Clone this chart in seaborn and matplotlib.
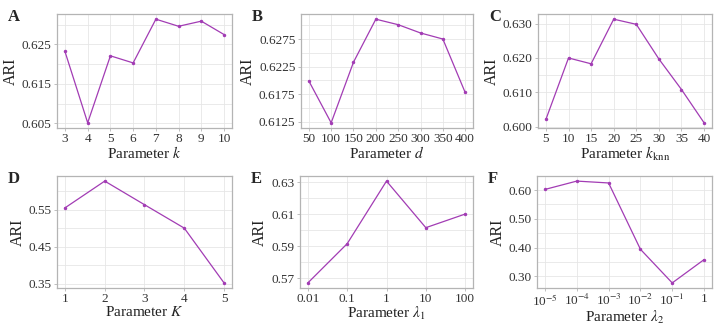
import numpy as np
import pandas as pd
import seaborn as sns
import matplotlib.pyplot as plt
from matplotlib.ticker import MultipleLocator

# ARI sensitivity to each hyperparameter
k_vals = ["3", "4", "5", "6", "7", "8", "9", "10"]
k_ari = [0.6232, 0.6051, 0.6221, 0.6203, 0.6314, 0.6296, 0.6309, 0.6275]

d_vals = ["50", "100", "150", "200", "250", "300", "350", "400"]
d_ari = [0.6199, 0.6123, 0.6233, 0.6311, 0.6301, 0.6286, 0.6275, 0.6178]

knn_vals = ["5", "10", "15", "20", "25", "30", "35", "40"]
knn_ari = [0.6021, 0.6200, 0.6183, 0.6313, 0.6298, 0.6197, 0.6108, 0.6011]

K_vals = ["1", "2", "3", "4", "5"]
K_ari = [0.5554, 0.628, 0.564, 0.5005, 0.352]

lam1_vals = ["0.01", "0.1", "1", "10", "100"]
lam1_ari = [0.567, 0.5915, 0.6306, 0.6015, 0.610]

lam2_vals = ["10$^{\\mathrm{-5}}$", "10$^{\\mathrm{-4}}$", "10$^{\\mathrm{-3}}$",
             "10$^{\\mathrm{-2}}$", "10$^{\\mathrm{-1}}$", "1"]
lam2_ari = [0.602, 0.631, 0.6245, 0.394, 0.277, 0.358]

sns.set_theme(style="whitegrid")
plt.rcParams["font.family"] = ["Liberation Serif", "DejaVu Serif"]
plt.rcParams["mathtext.fontset"] = "stix"

LINE = "#a23cb4"
SPINE = "#b4b4b4"
GRID = "#e6e6e6"

panels = [
    ("A", k_vals, k_ari, r"Parameter $k$", [0.605, 0.615, 0.625], "{:.3f}"),
    ("B", d_vals, d_ari, r"Parameter $d$", [0.6125, 0.6175, 0.6225, 0.6275], "{:.4f}"),
    ("C", knn_vals, knn_ari, r"Parameter $k_{\mathrm{knn}}$", [0.600, 0.610, 0.620, 0.630], "{:.3f}"),
    ("D", K_vals, K_ari, r"Parameter $K$", [0.35, 0.45, 0.55], "{:.2f}"),
    ("E", lam1_vals, lam1_ari, r"Parameter $\lambda_1$", [0.57, 0.59, 0.61, 0.63], "{:.2f}"),
    ("F", lam2_vals, lam2_ari, r"Parameter $\lambda_2$", [0.30, 0.40, 0.50, 0.60], "{:.2f}"),
]

fig = plt.figure(figsize=(7.24, 3.26), dpi=100)
W, H = 724, 326
boxes = [
    (57, 14, 175, 114), (301, 14, 172, 114), (538, 14, 174, 114),
    (57, 176, 175, 112), (300, 176, 173, 112), (537, 176, 175, 112),
]

for (letter, xs, ys, xlabel, yt, fmt), (x0, y0, w, h) in zip(panels, boxes):
    ax = fig.add_axes([x0 / W, 1 - (y0 + h) / H, w / W, h / H])
    df = pd.DataFrame({"pos": np.arange(len(xs)), "ARI": ys})
    sns.lineplot(data=df, x="pos", y="ARI", ax=ax, color=LINE, linewidth=0.9,
                 marker="o", markersize=2.5, markeredgewidth=0, markerfacecolor=LINE)
    ax.set_xticks(df["pos"])
    ax.set_xticklabels(xs)
    ax.set_yticks(yt)
    ax.set_yticklabels([fmt.format(v) for v in yt])
    step = yt[1] - yt[0]
    ax.yaxis.set_minor_locator(MultipleLocator(step / 2))
    ax.grid(True, which="both", color=GRID, linewidth=0.6)
    ax.set_xlabel(xlabel, fontsize=11, labelpad=0, color="#222222")
    ax.set_ylabel("ARI", fontsize=11.5, labelpad=2, color="#222222")
    ax.tick_params(axis="both", which="major", labelsize=9.5, length=2, width=0.6,
                   color=SPINE, pad=2, labelcolor="#333333", left=True, bottom=True)
    ax.tick_params(axis="x", which="major", pad=1.5)
    ax.tick_params(axis="both", which="minor", length=0)
    for s in ax.spines.values():
        s.set_color(SPINE)
        s.set_linewidth(0.9)
    fig.text((x0 - 49) / W, 1 - (y0 - 5) / H, letter, fontsize=12, fontweight="bold",
             va="top", ha="left")

fig.savefig("out.png", dpi=100)
